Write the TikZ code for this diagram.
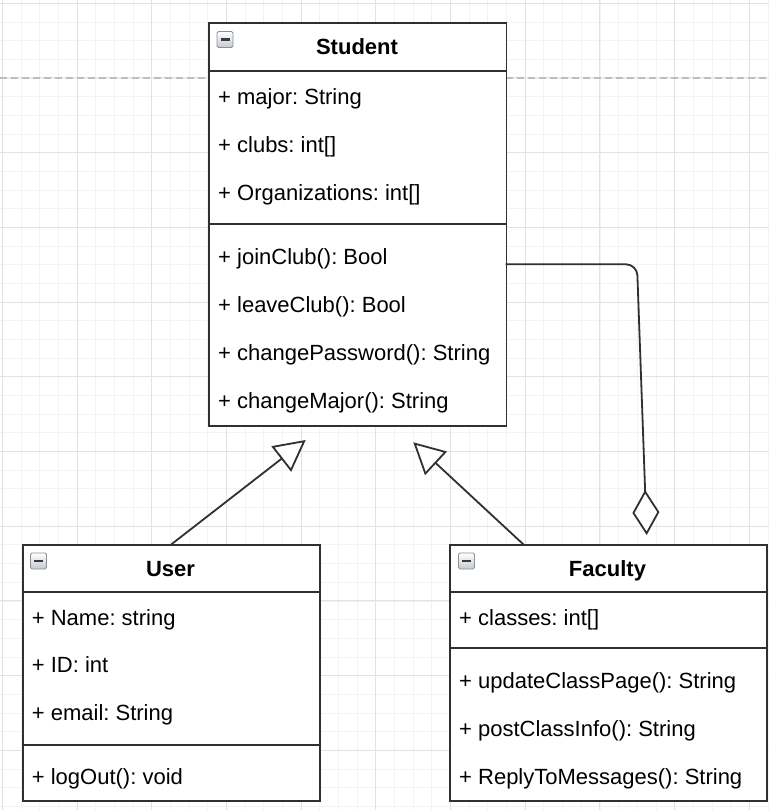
\documentclass[tikz,border=0pt]{standalone}
\usepackage{fontspec}
\setmainfont{Liberation Sans}
\usetikzlibrary{arrows.meta}
\frenchspacing
\definecolor{gridminor}{HTML}{F3F3F3}
\definecolor{gridmajor}{HTML}{E2E2E2}
\definecolor{pagedash}{HTML}{BDBDBD}
\definecolor{boxline}{HTML}{303030}
\definecolor{iconedge}{HTML}{8A9097}
\definecolor{iconfill}{HTML}{C4C9D0}
\definecolor{iconmark}{HTML}{3A3A3A}
\tikzset{
  classbox/.style={draw=boxline, line width=1.8pt, fill=white, rectangle, inner sep=0pt, anchor=north west},
  sepline/.style={draw=boxline, line width=1.8pt},
  rowtext/.style={anchor=base west, inner sep=0pt, font=\fontsize{22}{26}\selectfont},
  titletext/.style={anchor=base, inner sep=0pt, font=\fontsize{22}{26}\selectfont\bfseries},
  iconbox/.style={draw=iconedge, line width=0.9pt, rounded corners=1.5pt, top color=white, bottom color=iconfill, minimum size=16pt, inner sep=0pt},
  iconminus/.style={draw=iconmark, line width=2.2pt},
  genline/.style={draw=boxline, line width=1.8pt, -{Triangle[open, fill=white, length=31pt, width=32pt]}},
  aggline/.style={draw=boxline, line width=1.8pt, rounded corners=11pt, -{Diamond[open, fill=white, length=45pt, width=27pt]}},
  pageline/.style={draw=pagedash, line width=1.2pt, dash pattern=on 7pt off 4pt}
}
\begin{document}
\begin{tikzpicture}[x=1pt,y=-1pt]
\useasboundingbox (0,0) rectangle (769,810);
\fill[white] (0,0) rectangle (769,810);
% grid
\foreach \i in {0,...,41} {
  \draw[gridminor, line width=0.8pt] ({2.3+18.675*\i},0) -- ({2.3+18.675*\i},810);
}
\foreach \j in {0,...,43} {
  \draw[gridminor, line width=0.8pt] (0,{3.3+18.675*\j}) -- (769,{3.3+18.675*\j});
}
\foreach \i in {0,...,10} {
  \draw[gridmajor, line width=1pt] ({2.3+74.7*\i},0) -- ({2.3+74.7*\i},810);
  \draw[gridmajor, line width=1pt] (0,{3.3+74.7*\i}) -- (769,{3.3+74.7*\i});
}
\draw[pageline] (0,78) -- (769,78);

% Student
\node[classbox, minimum width=297.5pt, minimum height=402.5pt] (student) at (208,22.5) {};
\draw[sepline] (208,70.7) -- (505.5,70.7);
\draw[sepline] (208,224) -- (505.5,224);
\node[iconbox] (icS) at (225,39.5) {};
\draw[iconminus] ([xshift=-4.5pt]icS.center) -- ([xshift=4.5pt]icS.center);
\node[titletext] (tS) at (357,55) {Student};
\node[rowtext] (s1) at (218,104.3) {+ major: String};
\node[rowtext] (s2) at (218,152.3) {+ clubs: int[]};
\node[rowtext] (s3) at (218,200.3) {+ Organizations: int[]};
\node[rowtext] (s4) at (218,264.3) {+ joinClub(): Bool};
\node[rowtext] (s5) at (218,312.3) {+ leaveClub(): Bool};
\node[rowtext] (s6) at (218,360.3) {+ changePassword(): String};
\node[rowtext] (s7) at (218,408.3) {+ changeMajor(): String};

% User
\node[classbox, minimum width=297.6pt, minimum height=255.7pt] (user) at (21.7,544.3) {};
\draw[sepline] (21.7,592) -- (319.3,592);
\draw[sepline] (21.7,745.3) -- (319.3,745.3);
\node[iconbox] (icU) at (38.5,561) {};
\draw[iconminus] ([xshift=-4.5pt]icU.center) -- ([xshift=4.5pt]icU.center);
\node[titletext] (tU) at (170.5,576.5) {User};
\node[rowtext] (u1) at (31.7,625) {+ Name: string};
\node[rowtext] (u2) at (31.7,672.8) {+ ID: int};
\node[rowtext] (u3) at (31.7,720.8) {+ email: String};
\node[rowtext] (u4) at (31.7,784.2) {+ logOut(): void};

% Faculty
\node[classbox, minimum width=317pt, minimum height=255.7pt] (faculty) at (449,544.3) {};
\draw[sepline] (449,592) -- (766,592);
\draw[sepline] (449,648) -- (766,648);
\node[iconbox] (icF) at (466.5,561) {};
\draw[iconminus] ([xshift=-4.5pt]icF.center) -- ([xshift=4.5pt]icF.center);
\node[titletext] (tF) at (607.5,576.7) {Faculty};
\node[rowtext] (f1) at (459,625) {+ classes: int[]};
\node[rowtext] (f2) at (459,688.3) {+ updateClassPage(): String};
\node[rowtext] (f3) at (459,736) {+ postClassInfo(): String};
\node[rowtext] (f4) at (459,784.3) {+ ReplyToMessages(): String};

% connectors
\coordinate (gen1tip) at (305.7,440);
\coordinate (gen2start) at (523.3,544.3);
\coordinate (gen2tip) at (413.3,442.3);
\coordinate (aggstart) at (505.5,264.3);
\coordinate (aggbend) at (637,264.3);
\coordinate (aggend) at (646.7,535);
\draw[genline] (user.north) -- (gen1tip);
\draw[genline] (gen2start) -- (gen2tip);
\draw[aggline] (aggstart) -- (aggbend) -- (aggend);
\end{tikzpicture}
\end{document}
